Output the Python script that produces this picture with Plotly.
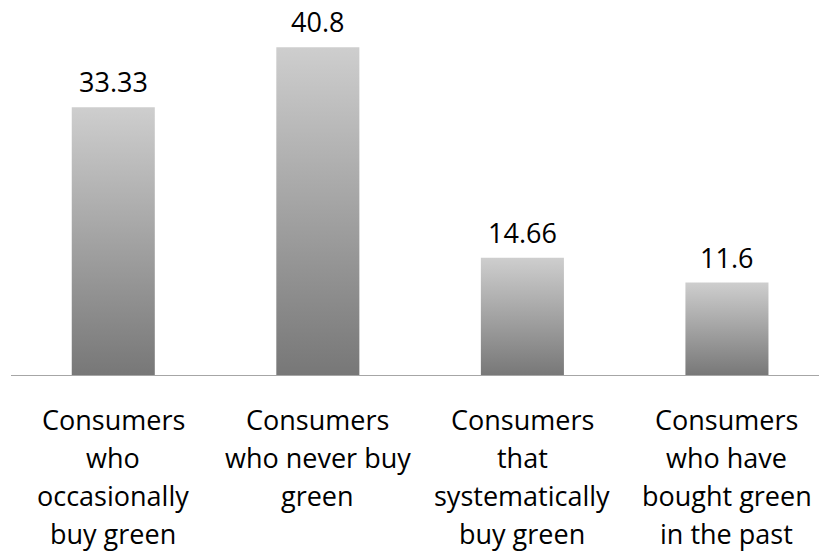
import plotly.graph_objects as go

# Share of consumers by green purchasing behaviour
categories = [
    "Consumers<br>who<br>occasionally<br>buy green",
    "Consumers<br>who never buy<br>green",
    "Consumers<br>that<br>systematically<br>buy green",
    "Consumers<br>who have<br>bought green<br>in the past",
]
values = [33.33, 40.8, 14.66, 11.6]
value_labels = ["33.33", "40.8", "14.66", "11.6"]

FONT = "Open Sans"
HALF_WIDTH = 0.203  # half bar width in category units
GRADIENT = [[0.0, "#777777"], [1.0, "#cecece"]]  # bottom -> top
LINE_STEP = 38      # px between category label lines
FIRST_LINE = 43     # px from axis to middle of first label line

fig = go.Figure()

# each bar is a filled rectangle with a vertical grey gradient
for i, v in enumerate(values):
    fig.add_trace(go.Scatter(
        x=[i - HALF_WIDTH, i + HALF_WIDTH, i + HALF_WIDTH, i - HALF_WIDTH, i - HALF_WIDTH],
        y=[0, 0, v, v, 0],
        mode="lines",
        line=dict(width=0, color="rgba(0,0,0,0)"),
        fill="toself",
        fillgradient=dict(type="vertical", colorscale=GRADIENT),
        hoverinfo="skip",
        showlegend=False,
    ))

# value labels above bars
for i, (v, t) in enumerate(zip(values, value_labels)):
    fig.add_annotation(
        x=i, y=v, text=t, showarrow=False,
        xanchor="center", yanchor="bottom", yshift=5,
        font=dict(family=FONT, size=27, color="#000000"),
    )

# category labels, one line at a time for Office-like line spacing
for i, label in enumerate(categories):
    for k, line in enumerate(label.split("<br>")):
        fig.add_annotation(
            x=i, y=0, text=line, showarrow=False,
            xanchor="center", yanchor="middle",
            yshift=-(FIRST_LINE + k * LINE_STEP),
            font=dict(family=FONT, size=27, color="#000000"),
        )

fig.update_layout(
    width=819, height=554,
    margin=dict(l=11, r=0, t=0, b=178),
    plot_bgcolor="white", paper_bgcolor="white",
    showlegend=False,
    xaxis=dict(
        range=[-0.5, 3.45], showticklabels=False,
        showgrid=False, zeroline=False, showline=False, ticks="",
        fixedrange=True,
    ),
    yaxis=dict(
        range=[0, 46.65], visible=False, showgrid=False, zeroline=False,
        fixedrange=True,
    ),
    shapes=[dict(
        type="line", xref="paper", yref="y", x0=0, x1=1, y0=0, y1=0,
        line=dict(color="#a6a6a6", width=2),
    )],
)

fig.write_html("out.html")
